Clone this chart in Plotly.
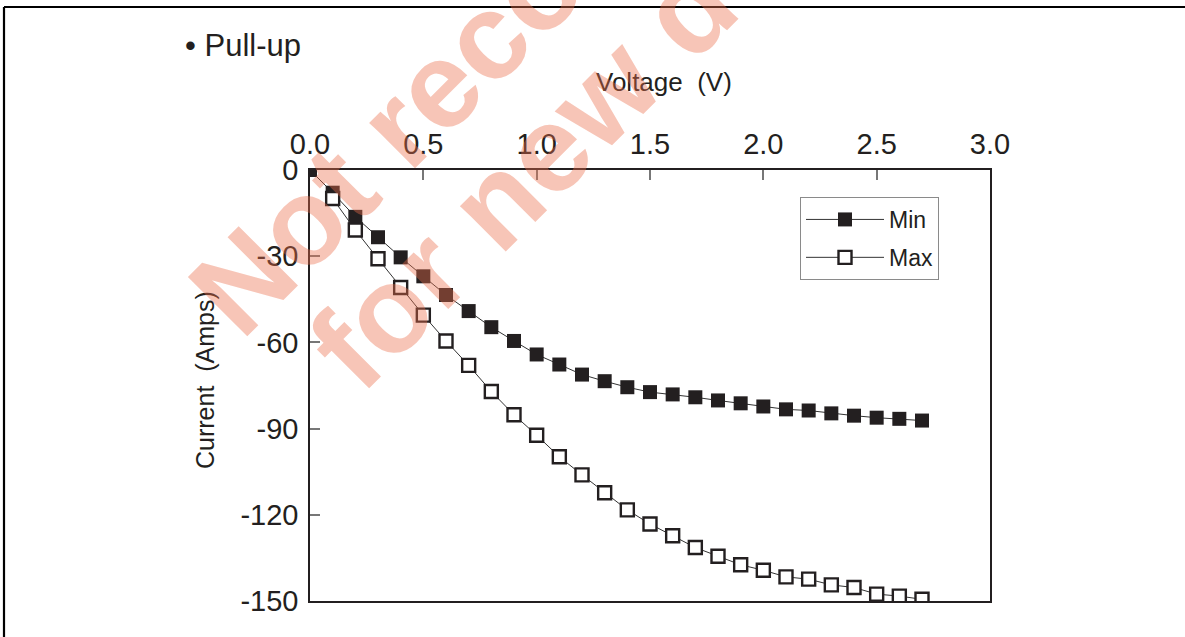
import plotly.graph_objects as go

voltage = [0.0, 0.1, 0.2, 0.3, 0.4, 0.5, 0.6, 0.7, 0.8, 0.9, 1.0, 1.1, 1.2, 1.3,
           1.4, 1.5, 1.6, 1.7, 1.8, 1.9, 2.0, 2.1, 2.2, 2.3, 2.4, 2.5, 2.6, 2.7]
min_current = [0.0, -7.9, -16.3, -23.4, -30.4, -37.0, -43.5, -49.1, -54.7, -59.5,
               -64.2, -67.7, -71.2, -73.5, -75.6, -77.3, -78.1, -79.1, -80.2, -81.2,
               -82.3, -83.3, -83.7, -84.7, -85.5, -86.2, -86.6, -87.2]
max_voltage = voltage[1:]
max_current = [-9.9, -20.9, -30.9, -40.9, -50.5, -59.5, -68.0, -77.1, -85.2,
               -92.3, -99.8, -106.1, -112.3, -118.3, -123.2, -127.3, -131.4, -134.4,
               -137.4, -139.3, -141.6, -142.4, -144.4, -145.3, -147.6, -148.3, -149.4]
x_ticks = [0.0, 0.5, 1.0, 1.5, 2.0, 2.5, 3.0]
x_tick_labels = ["0.0", "0.5", "1.0", "1.5", "2.0", "2.5", "3.0"]
y_ticks = [0, -30, -60, -90, -120, -150]
y_tick_labels = ["0", "-30", "-60", "-90", "-120", "-150"]

INK = "#231f20"
FONT = "Liberation Sans, Arial, Helvetica, sans-serif"
WM = "rgba(236,110,75,0.40)"

fig = go.Figure()
fig.add_trace(go.Scatter(
    x=voltage, y=min_current, name="Min", mode="lines+markers",
    line=dict(color="#333333", width=1),
    marker=dict(symbol="square", size=14, color=INK, line=dict(width=0)),
    legendgroup="a",
))
fig.add_trace(go.Scatter(
    x=max_voltage, y=max_current, name="Max", mode="lines+markers",
    line=dict(color="#333333", width=1),
    marker=dict(symbol="square", size=13, color="white", line=dict(color=INK, width=2.4)),
    legendgroup="b",
))

fig.update_layout(
    width=1185, height=637,
    margin=dict(l=310, r=195, t=170, b=36, autoexpand=False),
    paper_bgcolor="white", plot_bgcolor="white",
    font=dict(family=FONT, color=INK),
    showlegend=True,
    legend=dict(x=0.7206, y=0.9374, xanchor="left", yanchor="top",
                bordercolor="#8a8a8a", borderwidth=1, bgcolor="white",
                font=dict(size=23, color=INK), tracegroupgap=5,
                itemwidth=78),
    xaxis=dict(side="top", range=[0, 3], tickvals=x_ticks, ticktext=x_tick_labels,
               ticks="inside", ticklen=10, tickcolor="#777777", tickwidth=1.5,
               showline=True, linecolor=INK, linewidth=1.5, mirror=True,
               showgrid=False, zeroline=False, automargin=False,
               tickfont=dict(size=29, color=INK), ticklabelstandoff=3),
    yaxis=dict(range=[-150, 0], tickvals=y_ticks, ticktext=y_tick_labels,
               ticks="inside", ticklen=10, tickcolor="#777777", tickwidth=1.5,
               showline=True, linecolor=INK, linewidth=1.5, mirror=True,
               showgrid=False, zeroline=False, automargin=False,
               tickfont=dict(size=29, color=INK), ticklabelstandoff=4),
)

annotations = [
    dict(text="\u2022 Pull-up", x=-0.1868, y=1.290, xanchor="left", yanchor="middle",
         font=dict(size=31, color=INK)),
    dict(text="Voltage  (V)", x=0.5206, y=1.2042, xanchor="center", yanchor="middle",
         font=dict(size=26, color=INK)),
    dict(text="Current  (Amps)", x=-0.1544, y=0.5128, xanchor="center", yanchor="middle",
         textangle=-90, font=dict(size=25, color=INK)),
    dict(text="<b>Not recommended</b>", x=0.4118, y=1.5476, xanchor="center", yanchor="middle",
         textangle=-45, font=dict(size=122, color=WM)),
    dict(text="<b>for new design</b>", x=0.4794, y=1.2505, xanchor="center", yanchor="middle",
         textangle=-45, font=dict(size=122, color=WM)),
]
for a in annotations:
    a.update(xref="paper", yref="paper", showarrow=False)
fig.update_layout(annotations=annotations)

# outer frame (top and left edges)
fig.add_shape(type="line", xref="paper", yref="paper", x0=-0.45, x1=1.30, y0=1.3782, y1=1.3782,
              line=dict(color="black", width=2.2))
fig.add_shape(type="line", xref="paper", yref="paper", x0=-0.45, x1=-0.45, y0=1.3782, y1=-0.1,
              line=dict(color="black", width=2.2))

page_fix = ("document.documentElement.style.overflow='hidden';"
            "document.body.style.margin='0';document.body.style.overflow='hidden';")
fig.write_html("out.html", post_script=page_fix, config={"displayModeBar": False})
